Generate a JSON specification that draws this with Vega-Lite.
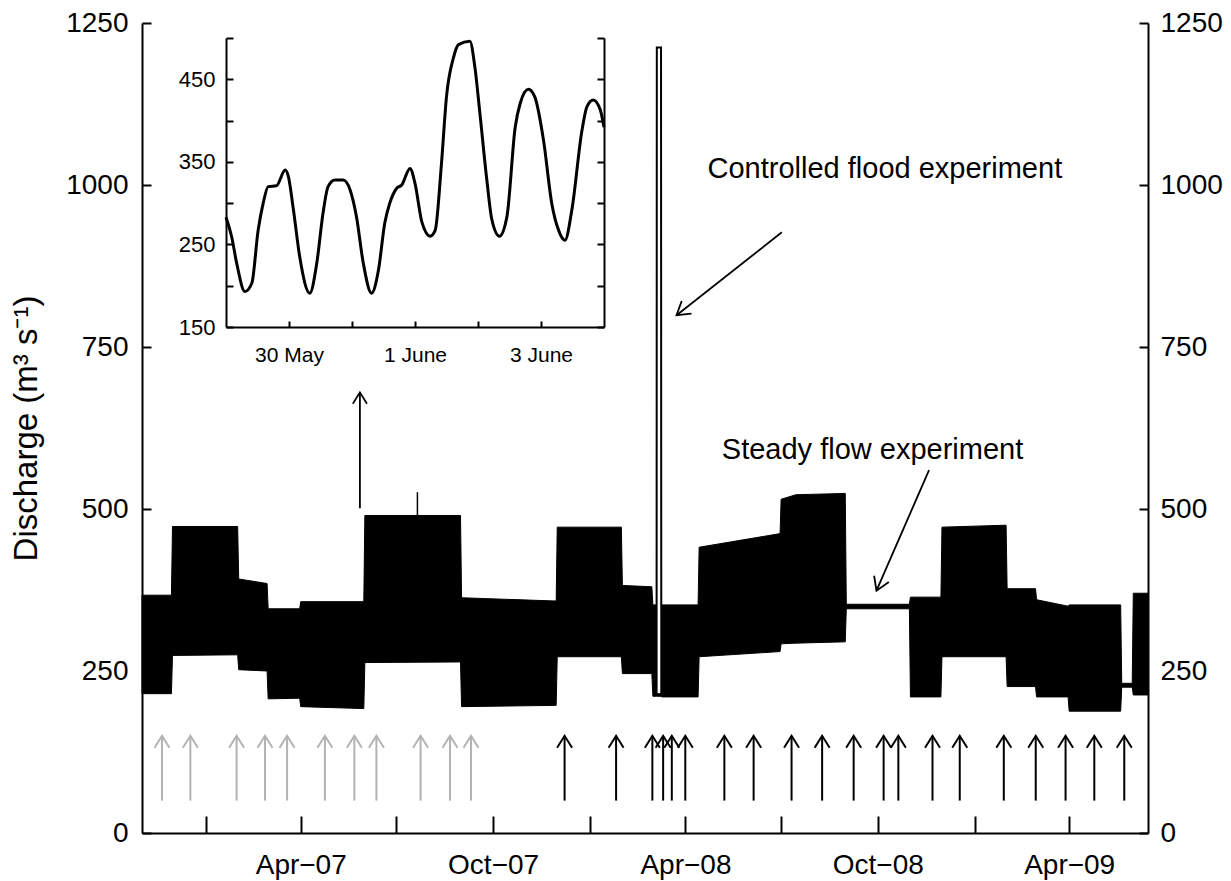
{
  "$schema": "https://vega.github.io/schema/vega-lite/v6.json",
  "width": 1006,
  "height": 810,
  "autosize": {"type": "none"},
  "padding": {"left": 142, "top": 23, "right": 83, "bottom": 48},
  "background": "white",
  "config": {
    "view": {"stroke": null},
    "font": "Liberation Sans",
    "axis": {"grid": false, "domainColor": "black", "tickColor": "black", "domainWidth": 2, "tickWidth": 2, "labelColor": "black", "titleColor": "black", "labelFont": "Liberation Sans", "titleFont": "Liberation Sans", "titleFontWeight": "normal", "labelFlush": false, "labelOverlap": false}
  },
  "datasets": {
    "band": [
      {"date": "2006-11-01", "hi": 367, "lo": 215},
      {"date": "2006-11-29", "hi": 367, "lo": 215},
      {"date": "2006-11-30", "hi": 473, "lo": 274},
      {"date": "2007-01-31", "hi": 473, "lo": 275},
      {"date": "2007-02-01", "hi": 392, "lo": 252},
      {"date": "2007-02-28", "hi": 385, "lo": 250},
      {"date": "2007-03-01", "hi": 346, "lo": 207},
      {"date": "2007-03-31", "hi": 346, "lo": 208},
      {"date": "2007-04-01", "hi": 357, "lo": 195},
      {"date": "2007-05-31", "hi": 357, "lo": 192},
      {"date": "2007-06-01", "hi": 490, "lo": 263},
      {"date": "2007-08-31", "hi": 490, "lo": 264},
      {"date": "2007-09-01", "hi": 363, "lo": 195},
      {"date": "2007-11-30", "hi": 358, "lo": 197},
      {"date": "2007-12-01", "hi": 472, "lo": 272},
      {"date": "2008-01-31", "hi": 472, "lo": 272},
      {"date": "2008-02-01", "hi": 382, "lo": 246},
      {"date": "2008-02-29", "hi": 380, "lo": 246},
      {"date": "2008-03-01", "hi": 352, "lo": 211},
      {"date": "2008-03-04T10:00:00Z", "hi": 352, "lo": 211},
      {"date": "2008-03-04T12:00:00Z", "hi": 215, "lo": 211},
      {"date": "2008-03-09T06:00:00Z", "hi": 215, "lo": 211},
      {"date": "2008-03-09T08:00:00Z", "hi": 352, "lo": 210},
      {"date": "2008-04-13", "hi": 352, "lo": 210},
      {"date": "2008-04-14", "hi": 441, "lo": 272},
      {"date": "2008-06-30", "hi": 462, "lo": 280},
      {"date": "2008-07-01", "hi": 515, "lo": 292},
      {"date": "2008-07-15", "hi": 522, "lo": 293},
      {"date": "2008-08-31", "hi": 524, "lo": 295},
      {"date": "2008-09-01", "hi": 353, "lo": 346},
      {"date": "2008-10-31", "hi": 353, "lo": 346},
      {"date": "2008-11-01", "hi": 364, "lo": 210},
      {"date": "2008-11-30", "hi": 364, "lo": 210},
      {"date": "2008-12-01", "hi": 472, "lo": 272},
      {"date": "2009-01-31", "hi": 475, "lo": 272},
      {"date": "2009-02-01", "hi": 377, "lo": 226},
      {"date": "2009-02-28", "hi": 377, "lo": 226},
      {"date": "2009-03-01", "hi": 360, "lo": 210},
      {"date": "2009-03-31", "hi": 350, "lo": 210},
      {"date": "2009-04-01", "hi": 352, "lo": 188},
      {"date": "2009-05-20", "hi": 352, "lo": 188},
      {"date": "2009-05-21", "hi": 231, "lo": 225},
      {"date": "2009-05-31", "hi": 231, "lo": 225},
      {"date": "2009-06-01", "hi": 370, "lo": 213},
      {"date": "2009-06-15", "hi": 370, "lo": 213}
    ],
    "flood": [
      {"date": "2008-03-04T12:00:00Z", "q": 215},
      {"date": "2008-03-04T18:00:00Z", "q": 1212},
      {"date": "2008-03-08T18:00:00Z", "q": 1212},
      {"date": "2008-03-09T00:00:00Z", "q": 215}
    ],
    "spikes": [
      {"date": "2007-07-21", "q": 488, "q2": 526}
    ],
    "arrows": [
      {"date": "2006-11-20", "phase": "pre"},
      {"date": "2006-12-17", "phase": "pre"},
      {"date": "2007-01-30", "phase": "pre"},
      {"date": "2007-02-26", "phase": "pre"},
      {"date": "2007-03-19", "phase": "pre"},
      {"date": "2007-04-24", "phase": "pre"},
      {"date": "2007-05-22", "phase": "pre"},
      {"date": "2007-06-12", "phase": "pre"},
      {"date": "2007-07-24", "phase": "pre"},
      {"date": "2007-08-21", "phase": "pre"},
      {"date": "2007-09-10", "phase": "pre"},
      {"date": "2007-12-08", "phase": "post"},
      {"date": "2008-01-26", "phase": "post"},
      {"date": "2008-02-29T12:00:00Z", "phase": "post"},
      {"date": "2008-03-10T18:00:00Z", "phase": "post"},
      {"date": "2008-03-19", "phase": "post"},
      {"date": "2008-03-31T20:00:00Z", "phase": "post"},
      {"date": "2008-05-08", "phase": "post"},
      {"date": "2008-06-04T20:00:00Z", "phase": "post"},
      {"date": "2008-07-10T22:00:00Z", "phase": "post"},
      {"date": "2008-08-09", "phase": "post"},
      {"date": "2008-09-08", "phase": "post"},
      {"date": "2008-10-06T12:00:00Z", "phase": "post"},
      {"date": "2008-10-20T12:00:00Z", "phase": "post"},
      {"date": "2008-11-22", "phase": "post"},
      {"date": "2008-12-17T22:00:00Z", "phase": "post"},
      {"date": "2009-01-28T20:00:00Z", "phase": "post"},
      {"date": "2009-02-28T05:00:00Z", "phase": "post"},
      {"date": "2009-03-28T14:00:00Z", "phase": "post"},
      {"date": "2009-04-24T22:00:00Z", "phase": "post"},
      {"date": "2009-05-23T10:00:00Z", "phase": "post"}
    ],
    "notes": [
      {"id": "inset", "date": "2007-05-27T07:00:00Z", "q": 501, "date2": "2007-05-27T07:00:00Z", "q2": 680},
      {"id": "flood", "date": "2008-07-01T16:00:00Z", "q": 927, "date2": "2008-03-23T12:00:00Z", "q2": 799},
      {"id": "steady", "date": "2008-11-18T17:00:00Z", "q": 560, "date2": "2008-09-29T17:00:00Z", "q2": 374}
    ],
    "labels": [
      {"text": "Controlled flood experiment", "date": "2008-04-22", "q": 1025},
      {"text": "Steady flow experiment", "date": "2008-05-05T14:00:00Z", "q": 591}
    ],
    "inset": [
      {"t": "2007-05-29T00:00:00Z", "q": 283},
      {"t": "2007-05-29T02:10:00Z", "q": 259},
      {"t": "2007-05-29T04:05:00Z", "q": 227},
      {"t": "2007-05-29T07:12:00Z", "q": 193},
      {"t": "2007-05-29T09:50:00Z", "q": 203},
      {"t": "2007-05-29T12:14:00Z", "q": 267},
      {"t": "2007-05-29T14:10:00Z", "q": 300},
      {"t": "2007-05-29T16:05:00Z", "q": 320},
      {"t": "2007-05-29T19:12:00Z", "q": 321},
      {"t": "2007-05-29T22:34:00Z", "q": 340},
      {"t": "2007-05-29T23:46:00Z", "q": 332},
      {"t": "2007-05-30T01:41:00Z", "q": 292},
      {"t": "2007-05-30T04:05:00Z", "q": 235},
      {"t": "2007-05-30T07:55:00Z", "q": 191},
      {"t": "2007-05-30T10:34:00Z", "q": 227},
      {"t": "2007-05-30T12:58:00Z", "q": 288},
      {"t": "2007-05-30T14:53:00Z", "q": 320},
      {"t": "2007-05-30T17:31:00Z", "q": 328},
      {"t": "2007-05-30T20:38:00Z", "q": 328},
      {"t": "2007-05-30T23:17:00Z", "q": 316},
      {"t": "2007-05-31T01:41:00Z", "q": 284},
      {"t": "2007-05-31T04:19:00Z", "q": 227},
      {"t": "2007-05-31T07:26:00Z", "q": 191},
      {"t": "2007-05-31T10:05:00Z", "q": 219},
      {"t": "2007-05-31T12:29:00Z", "q": 276},
      {"t": "2007-05-31T14:24:00Z", "q": 300},
      {"t": "2007-05-31T17:02:00Z", "q": 318},
      {"t": "2007-05-31T18:58:00Z", "q": 322},
      {"t": "2007-05-31T22:05:00Z", "q": 342},
      {"t": "2007-06-01T00:00:00Z", "q": 324},
      {"t": "2007-06-01T02:38:00Z", "q": 277},
      {"t": "2007-06-01T05:46:00Z", "q": 260},
      {"t": "2007-06-01T07:41:00Z", "q": 267},
      {"t": "2007-06-01T10:05:00Z", "q": 348},
      {"t": "2007-06-01T12:00:00Z", "q": 429},
      {"t": "2007-06-01T14:38:00Z", "q": 476},
      {"t": "2007-06-01T16:34:00Z", "q": 492},
      {"t": "2007-06-01T20:53:00Z", "q": 496},
      {"t": "2007-06-01T22:48:00Z", "q": 465},
      {"t": "2007-06-02T00:43:00Z", "q": 409},
      {"t": "2007-06-02T03:22:00Z", "q": 328},
      {"t": "2007-06-02T05:17:00Z", "q": 280},
      {"t": "2007-06-02T08:10:00Z", "q": 260},
      {"t": "2007-06-02T11:02:00Z", "q": 284},
      {"t": "2007-06-02T14:10:00Z", "q": 392},
      {"t": "2007-06-02T16:05:00Z", "q": 421},
      {"t": "2007-06-02T19:12:00Z", "q": 438},
      {"t": "2007-06-02T21:36:00Z", "q": 429},
      {"t": "2007-06-03T00:58:00Z", "q": 376},
      {"t": "2007-06-03T04:05:00Z", "q": 300},
      {"t": "2007-06-03T06:43:00Z", "q": 267},
      {"t": "2007-06-03T09:07:00Z", "q": 255},
      {"t": "2007-06-03T11:46:00Z", "q": 292},
      {"t": "2007-06-03T15:36:00Z", "q": 388},
      {"t": "2007-06-03T17:31:00Z", "q": 417},
      {"t": "2007-06-03T19:55:00Z", "q": 425},
      {"t": "2007-06-03T22:34:00Z", "q": 413},
      {"t": "2007-06-04T00:00:00Z", "q": 392}
    ]
  },
  "layer": [
    {
      "data": {"name": "band"},
      "mark": {"type": "area", "color": "black", "stroke": "black", "strokeWidth": 1, "interpolate": "linear"},
      "encoding": {
        "x": {"field": "date", "type": "temporal",
          "scale": {"type": "utc", "nice": false, "domain": [{"year": 2006, "month": 11, "date": 1, "utc": true}, {"year": 2009, "month": 6, "date": 15, "utc": true}]},
          "axis": {"orient": "bottom", "title": null, "tickSize": -17, "labelPadding": 35, "labelFontSize": 28,
            "values": [{"year": 2007, "month": 1, "date": 1, "utc": true}, {"year": 2007, "month": 4, "date": 1, "utc": true}, {"year": 2007, "month": 7, "date": 1, "utc": true}, {"year": 2007, "month": 10, "date": 1, "utc": true}, {"year": 2008, "month": 1, "date": 1, "utc": true}, {"year": 2008, "month": 4, "date": 1, "utc": true}, {"year": 2008, "month": 7, "date": 1, "utc": true}, {"year": 2008, "month": 10, "date": 1, "utc": true}, {"year": 2009, "month": 1, "date": 1, "utc": true}, {"year": 2009, "month": 4, "date": 1, "utc": true}],
            "labelExpr": "(utcmonth(datum.value) == 3 || utcmonth(datum.value) == 9) ? utcFormat(datum.value, '%b−%y') : ''"}},
        "y": {"field": "hi", "type": "quantitative",
          "scale": {"domain": [0, 1250], "nice": false, "zero": false},
          "axis": {"orient": "left", "values": [0, 250, 500, 750, 1000, 1250], "format": "d", "tickSize": -9, "labelPadding": 23, "labelFontSize": 28, "title": "Discharge (m³ s⁻¹)", "titleFontSize": 33, "titlePadding": 22}},
        "y2": {"field": "lo"}
      }
    },
    {
      "data": {"name": "flood"},
      "mark": {"type": "line", "color": "black", "strokeWidth": 2},
      "encoding": {
        "x": {"field": "date", "type": "temporal", "scale": {"type": "utc", "nice": false, "domain": [{"year": 2006, "month": 11, "date": 1, "utc": true}, {"year": 2009, "month": 6, "date": 15, "utc": true}]}, "axis": null},
        "y": {"field": "q", "type": "quantitative", "scale": {"domain": [0, 1250], "nice": false, "zero": false}, "axis": null}
      }
    },
    {
      "data": {"name": "spikes"},
      "mark": {"type": "rule", "color": "black", "strokeWidth": 1.5},
      "encoding": {
        "x": {"field": "date", "type": "temporal", "scale": {"type": "utc", "nice": false, "domain": [{"year": 2006, "month": 11, "date": 1, "utc": true}, {"year": 2009, "month": 6, "date": 15, "utc": true}]}, "axis": null},
        "y": {"field": "q", "type": "quantitative", "scale": {"domain": [0, 1250], "nice": false, "zero": false}, "axis": null},
        "y2": {"field": "q2"}
      }
    },
    {
      "data": {"name": "arrows"},
      "mark": {"type": "rule", "strokeWidth": 2},
      "encoding": {
        "x": {"field": "date", "type": "temporal", "scale": {"type": "utc", "nice": false, "domain": [{"year": 2006, "month": 11, "date": 1, "utc": true}, {"year": 2009, "month": 6, "date": 15, "utc": true}]}, "axis": null},
        "y": {"datum": 50, "type": "quantitative", "scale": {"domain": [0, 1250], "nice": false, "zero": false}, "axis": null},
        "y2": {"datum": 150},
        "color": {"field": "phase", "type": "nominal", "scale": {"domain": ["pre", "post"], "range": ["#b3b3b3", "#000000"]}, "legend": null}
      }
    },
    {
      "data": {"name": "arrows"},
      "mark": {"type": "point", "shape": "M -1 1.6 L 0 0 L 1 1.6", "size": 225, "filled": false, "strokeWidth": 2, "opacity": 1},
      "encoding": {
        "x": {"field": "date", "type": "temporal", "scale": {"type": "utc", "nice": false, "domain": [{"year": 2006, "month": 11, "date": 1, "utc": true}, {"year": 2009, "month": 6, "date": 15, "utc": true}]}, "axis": null},
        "y": {"datum": 150, "type": "quantitative", "scale": {"domain": [0, 1250], "nice": false, "zero": false}, "axis": null},
        "color": {"field": "phase", "type": "nominal", "scale": {"domain": ["pre", "post"], "range": ["#b3b3b3", "#000000"]}, "legend": null}
      }
    },
    {
      "data": {"name": "notes"},
      "mark": {"type": "rule", "color": "black", "strokeWidth": 1.8},
      "encoding": {
        "x": {"field": "date", "type": "temporal", "scale": {"type": "utc", "nice": false, "domain": [{"year": 2006, "month": 11, "date": 1, "utc": true}, {"year": 2009, "month": 6, "date": 15, "utc": true}]}, "axis": null},
        "y": {"field": "q", "type": "quantitative", "scale": {"domain": [0, 1250], "nice": false, "zero": false}, "axis": null},
        "x2": {"field": "date2"},
        "y2": {"field": "q2"}
      }
    },
    {
      "data": {"name": "notes"},
      "transform": [{"filter": "datum.id == 'inset'"}],
      "mark": {"type": "point", "shape": "M -1 1.6 L 0 0 L 1 1.6", "size": 200, "filled": false, "strokeWidth": 1.8, "color": "black", "opacity": 1, "angle": 0},
      "encoding": {
        "x": {"field": "date2", "type": "temporal", "scale": {"type": "utc", "nice": false, "domain": [{"year": 2006, "month": 11, "date": 1, "utc": true}, {"year": 2009, "month": 6, "date": 15, "utc": true}]}, "axis": null},
        "y": {"field": "q2", "type": "quantitative", "scale": {"domain": [0, 1250], "nice": false, "zero": false}, "axis": null}
      }
    },
    {
      "data": {"name": "notes"},
      "transform": [{"filter": "datum.id == 'flood'"}],
      "mark": {"type": "point", "shape": "M -1 1.6 L 0 0 L 1 1.6", "size": 256, "filled": false, "strokeWidth": 1.8, "color": "black", "opacity": 1, "angle": 232},
      "encoding": {
        "x": {"field": "date2", "type": "temporal", "scale": {"type": "utc", "nice": false, "domain": [{"year": 2006, "month": 11, "date": 1, "utc": true}, {"year": 2009, "month": 6, "date": 15, "utc": true}]}, "axis": null},
        "y": {"field": "q2", "type": "quantitative", "scale": {"domain": [0, 1250], "nice": false, "zero": false}, "axis": null}
      }
    },
    {
      "data": {"name": "notes"},
      "transform": [{"filter": "datum.id == 'steady'"}],
      "mark": {"type": "point", "shape": "M -1 1.6 L 0 0 L 1 1.6", "size": 256, "filled": false, "strokeWidth": 1.8, "color": "black", "opacity": 1, "angle": 203},
      "encoding": {
        "x": {"field": "date2", "type": "temporal", "scale": {"type": "utc", "nice": false, "domain": [{"year": 2006, "month": 11, "date": 1, "utc": true}, {"year": 2009, "month": 6, "date": 15, "utc": true}]}, "axis": null},
        "y": {"field": "q2", "type": "quantitative", "scale": {"domain": [0, 1250], "nice": false, "zero": false}, "axis": null}
      }
    },
    {
      "data": {"name": "labels"},
      "mark": {"type": "text", "align": "left", "baseline": "middle", "fontSize": 29, "font": "Liberation Sans", "color": "black"},
      "encoding": {
        "x": {"field": "date", "type": "temporal", "scale": {"type": "utc", "nice": false, "domain": [{"year": 2006, "month": 11, "date": 1, "utc": true}, {"year": 2009, "month": 6, "date": 15, "utc": true}]}, "axis": null},
        "y": {"field": "q", "type": "quantitative", "scale": {"domain": [0, 1250], "nice": false, "zero": false}, "axis": null},
        "text": {"field": "text"}
      }
    },
    {
      "data": {"name": "band"},
      "mark": {"type": "point", "opacity": 0},
      "encoding": {
        "y": {"field": "hi", "type": "quantitative", "scale": {"domain": [0, 1250], "nice": false, "zero": false},
          "axis": {"orient": "right", "values": [0, 250, 500, 750, 1000, 1250], "format": "d", "tickSize": -9, "labelPadding": 21, "labelFontSize": 28, "title": null}}
      }
    },
    {
      "data": {"name": "inset"},
      "mark": {"type": "line", "color": "black", "strokeWidth": 3, "interpolate": "monotone"},
      "encoding": {
        "x": {"field": "t", "type": "temporal",
          "scale": {"type": "utc", "nice": false, "domain": [{"year": 2007, "month": 5, "date": 29, "utc": true}, {"year": 2007, "month": 6, "date": 4, "utc": true}], "range": [84, 462]},
          "axis": {"orient": "bottom", "offset": -506, "title": null, "tickSize": -6, "labelPadding": 23, "labelFontSize": 21,
            "values": [{"year": 2007, "month": 5, "date": 30, "utc": true}, {"year": 2007, "month": 5, "date": 31, "utc": true}, {"year": 2007, "month": 6, "date": 1, "utc": true}, {"year": 2007, "month": 6, "date": 2, "utc": true}, {"year": 2007, "month": 6, "date": 3, "utc": true}],
            "labelExpr": "indexof([30, 1, 3], utcdate(datum.value)) >= 0 ? utcFormat(datum.value, '%-d %B') : ''"}},
        "y": {"field": "q", "type": "quantitative",
          "scale": {"domain": [150, 500], "range": [304, 15], "nice": false, "zero": false},
          "axis": {"orient": "left", "offset": -84, "title": null, "tickSize": -7, "labelPadding": 18, "labelFontSize": 22,
            "values": [150, 200, 250, 300, 350, 400, 450, 500],
            "labelExpr": "datum.value % 100 == 50 ? datum.label : ''"}}
      }
    },
    {
      "data": {"name": "inset"},
      "mark": {"type": "point", "opacity": 0},
      "encoding": {
        "y": {"field": "q", "type": "quantitative",
          "scale": {"domain": [150, 500], "range": [304, 15], "nice": false, "zero": false},
          "axis": {"orient": "right", "offset": -544, "title": null, "tickSize": -7, "labels": false,
            "values": [150, 200, 250, 300, 350, 400, 450, 500]}}
      }
    }
  ],
  "resolve": {"scale": {"x": "independent", "y": "independent"}}
}
